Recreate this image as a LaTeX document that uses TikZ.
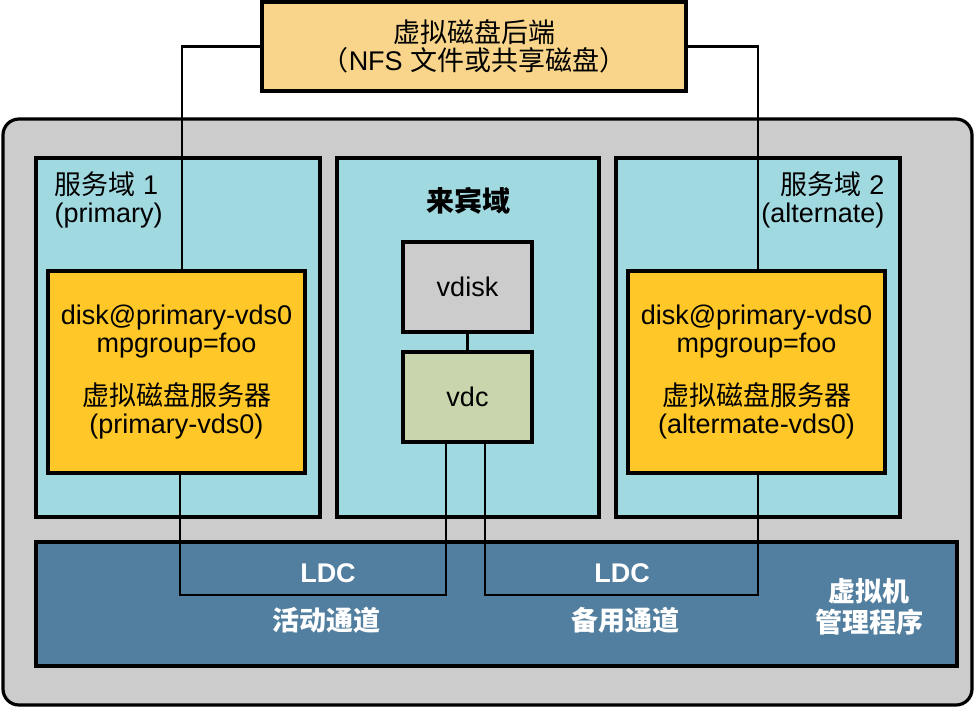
\documentclass[tikz,border=0pt]{standalone}
\usepackage{fontspec}
\setmainfont{Liberation Sans}
\newfontfamily\cjk{Noto Sans CJK SC}
\usepackage{tikz}
\usetikzlibrary{positioning}

\definecolor{backendfill}{HTML}{F8D58A}
\definecolor{hostgray}{HTML}{CCCCCC}
\definecolor{domfill}{HTML}{A1D9E0}
\definecolor{vdsfill}{HTML}{FFC728}
\definecolor{vdcfill}{HTML}{C9D6AD}
\definecolor{hvfill}{HTML}{527F9F}

\begin{document}
\begin{tikzpicture}[x=0.5pt, y=-0.5pt, line width=1.6pt,
	font=\fontsize{13.5}{14}\selectfont,
	box/.style={draw, rectangle, inner sep=0pt, align=center},
	dom/.style={box, fill=domfill, minimum width=142pt, minimum height=179.5pt},
	vds/.style={box, fill=vdsfill, minimum width=128.5pt, minimum height=101pt},
	small/.style={box, minimum width=64.5pt, minimum height=45pt},
	lbl/.style={inner sep=0pt},
	wlbl/.style={lbl, text=white, font=\fontsize{13.5}{14}\selectfont\bfseries},
	link/.style={line width=1.4pt}]
	\useasboundingbox (0,0) rectangle (975,708);

	\node[box, fill=backendfill, minimum width=212pt, minimum height=44.5pt] (backend) at (474,46.5)
		{{\cjk 虚拟磁盘后端}\\{\cjk （}NFS {\cjk 文件或共享磁盘）}};
	\node[box, fill=hostgray, rounded corners=8pt, minimum width=484.5pt, minimum height=293pt] (host) at (487.5,412) {};

	\node[dom] (dom1) at (178,337.5) {};
	\node[dom, minimum width=131pt] (guest) at (468,337.5) {};
	\node[dom] (dom2) at (758,337.5) {};
	\node[box, fill=hvfill, minimum width=460.5pt, minimum height=62pt] (hv) at (496.5,604) {};

	\node[lbl, anchor=west, align=left] (dom1lbl) at (53,200) {{\cjk 服务域} 1\\(primary)};
	\node[lbl, anchor=east, align=right] (dom2lbl) at (886,200) {{\cjk 服务域} 2\\(alternate)};
	\node[lbl, font=\fontsize{14}{14}\selectfont\cjk\bfseries] (guestlbl) at (468,201) {来宾域};

	\node[vds] (vds1) at (176.5,372) {disk@primary-vds0\\mpgroup=foo\\[11.5pt]{\cjk 虚拟磁盘服务器}\\(primary-vds0)};
	\node[vds] (vds2) at (756.5,372) {disk@primary-vds0\\mpgroup=foo\\[11.5pt]{\cjk 虚拟磁盘服务器}\\(altermate-vds0)};

	\node[small, fill=hostgray] (vdisk) at (467.5,287) {vdisk};
	\node[small, fill=vdcfill] (vdc) at (467.5,397) {vdc};

	% channels
	\coordinate (ch1) at (313,595);
	\coordinate (ch2) at (620,595);
	\node[wlbl] (ldc1) at (328,573) {LDC};
	\node[wlbl, font=\fontsize{13.5}{14}\selectfont\cjk\bfseries] (act) at (326,620) {活动通道};
	\node[wlbl] (ldc2) at (622,573) {LDC};
	\node[wlbl, font=\fontsize{13.5}{14}\selectfont\cjk\bfseries] (alt) at (625,620) {备用通道};
	\node[wlbl, align=center, font=\fontsize{13.5}{15.5}\selectfont\cjk\bfseries] (hvlbl) at (869,607) {虚拟机\\管理程序};

	\draw[link] (backend.west) -| ([xshift=2.75pt]vds1.north);
	\draw[link] (backend.east) -| ([xshift=0.75pt]vds2.north);
	\draw[link] (vdisk) -- (vdc);
	\draw[link] ([xshift=1.75pt]vds1.south) |- (ch1) -| ([xshift=-10.75pt]vdc.south);
	\draw[link] ([xshift=8.75pt]vdc.south) |- (ch2) -| ([xshift=0.75pt]vds2.south);
\end{tikzpicture}
\end{document}
